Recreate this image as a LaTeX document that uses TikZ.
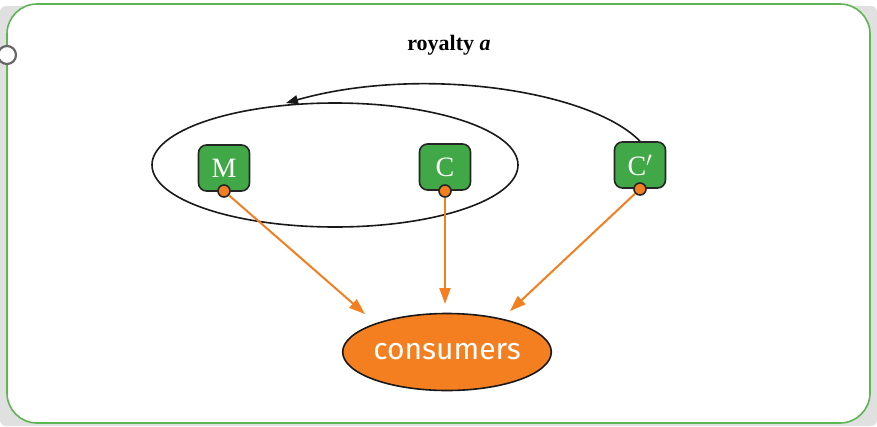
\documentclass[tikz,border=0pt]{standalone}
\usepackage{fontspec}
\setmainfont{Liberation Serif}
\newfontfamily\consfont{Fira Sans}
\usetikzlibrary{arrows.meta,shapes.geometric}
\definecolor{framegreen}{HTML}{5DB554}
\definecolor{boxgreen}{HTML}{40A846}
\definecolor{consorange}{HTML}{F47F20}
\begin{document}
\begin{tikzpicture}[x=1pt,y=-1pt,
  agent/.style={draw=black!85,line width=1.6pt,fill=boxgreen,rounded corners=8pt,minimum width=51pt,minimum height=46pt,inner sep=0pt,text=white,font=\fontsize{28}{28}\selectfont},
  port/.style={circle,draw=black!85,line width=1.6pt,fill=consorange,minimum size=12pt,inner sep=0pt},
  flow/.style={draw=consorange,line width=2pt,-{Triangle[length=16pt,width=11pt]}},
  royal/.style={draw=black!90,line width=1.6pt,-{Triangle[length=12pt,width=9pt]}}
]
\useasboundingbox (0,0) rectangle (877,426);
\fill[black!12,rounded corners=6pt] (0,6) rectangle (877,426);
\draw[framegreen,line width=1.6pt,fill=white,rounded corners=30pt] (7,4) rectangle (870,423);
\node[circle,draw=black!60,line width=2.2pt,fill=white,minimum size=18pt,inner sep=0pt] (hole) at (7,55) {};
\node[ellipse,draw=black!90,line width=1.6pt,minimum width=366pt,minimum height=124pt,inner sep=0pt] (firm) at (335,165) {};
\node[agent] (M) at (224,168) {M};
\node[agent] (C) at (445,167) {C};
\node[agent] (Cp) at (640,165) {C$'$};
\node[port] (pM) at (224,191) {};
\node[port] (pC) at (445,191) {};
\node[port] (pCp) at (640,189) {};
\node[ellipse,draw=black!90,line width=1.6pt,fill=consorange,minimum width=207pt,minimum height=77pt,inner sep=0pt,text=white,font=\consfont\fontsize{30}{30}\selectfont] (cons) at (447,352) {consumers};
\coordinate (tM) at (365,314);
\coordinate (tC) at (445,304);
\coordinate (tCp) at (510,311);
\draw[flow] (pM) -- (tM);
\draw[flow] (pC) -- (tC);
\draw[flow] (pCp) -- (tCp);
\coordinate (rend) at (286,103);
\draw[royal] (Cp.north) .. controls (590,90) and (420,65) .. (rend);
\node[font=\bfseries\fontsize{22}{22}\selectfont] (roy) at (449,45) {royalty \textit{a}};
\end{tikzpicture}
\end{document}
